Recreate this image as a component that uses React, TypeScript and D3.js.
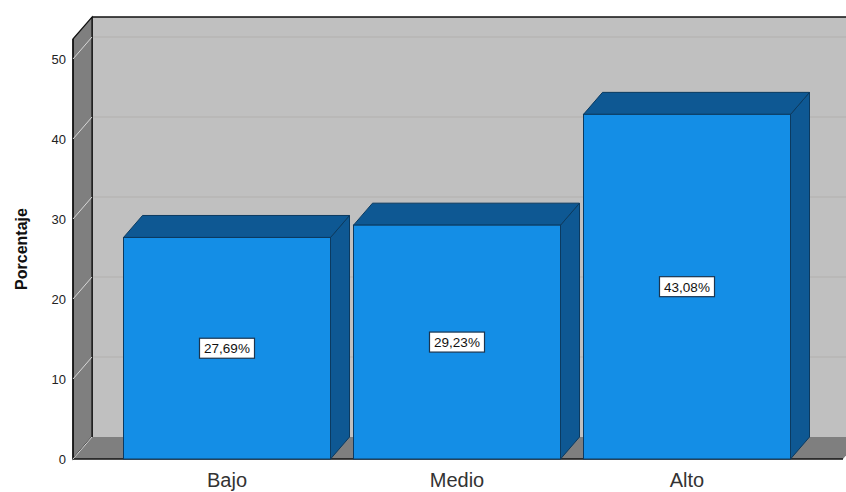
import React from "react";
import * as d3 from "d3";

const categories = ["Bajo", "Medio", "Alto"];
const values = [27.69, 29.23, 43.08];
const valueLabels = ["27,69%", "29,23%", "43,08%"];
const yTicks = [0, 10, 20, 30, 40, 50];

const W = 846;
const H = 492;
const DX = 19;
const DY = 22;

export default function App() {
  const y = d3.scaleLinear().domain([0, 52.5]).range([459, 39]);
  const x = d3.scaleBand<string>().domain(categories).range([112, 802]).paddingInner(0.1).paddingOuter(0.05);
  const frontLeft = 73;
  const frontRight = 843;
  const y0 = y(0);
  const yTop = y(52.5);

  const pts = (p: [number, number][]) => p.map((q) => q.join(",")).join(" ");

  return (
    <svg width={W} height={H} style={{ position: "absolute", left: 0, top: 0, background: "#fff" }} fontFamily="'Liberation Sans', Arial, sans-serif">
      {/* back wall */}
      <rect x={frontLeft + DX} y={yTop - DY} width={W} height={y0 - yTop} fill="#c0c0c0" />
      {yTicks.filter((t) => t > 0).map((t) => (
        <line key={"g" + t} x1={frontLeft + DX} x2={W + 20} y1={y(t) - DY} y2={y(t) - DY} stroke="#b2afad" strokeWidth={1.2} />
      ))}
      <line x1={frontLeft + DX} x2={W + 20} y1={yTop - DY} y2={yTop - DY} stroke="#111" strokeWidth={1.5} />
      <line x1={frontLeft + DX} x2={frontLeft + DX} y1={yTop - DY} y2={y0 - DY} stroke="#111" strokeWidth={1.5} />
      {/* side wall */}
      <polygon
        points={pts([[frontLeft, yTop], [frontLeft + DX, yTop - DY], [frontLeft + DX, y0 - DY], [frontLeft, y0]])}
        fill="#7f7f7f"
        stroke="#111"
        strokeWidth={1.2}
      />
      {/* floor */}
      <polygon
        points={pts([[frontLeft, y0], [frontLeft + DX, y0 - DY], [frontRight + DX, y0 - DY], [frontRight, y0]])}
        fill="#7f7f7f"
      />
      <line x1={frontLeft} x2={frontRight} y1={y0} y2={y0} stroke="#111" strokeWidth={1.5} />
      <line x1={frontLeft} x2={frontLeft} y1={yTop} y2={y0} stroke="#111" strokeWidth={1.5} />
      {/* ticks */}
      {yTicks.map((t) => (
        <g key={"t" + t}>
          <line x1={frontLeft} y1={y(t)} x2={frontLeft + DX} y2={y(t) - DY} stroke="#d8d8d8" strokeWidth={1} />
          <text x={66} y={y(t) + 5} textAnchor="end" fontSize={13} fill="#222">{t}</text>
        </g>
      ))}
      {/* bars */}
      {categories.map((c, i) => {
        const x0 = x(c)!;
        const x1 = x0 + x.bandwidth();
        const yt = y(values[i]);
        return (
          <g key={c}>
            <polygon points={pts([[x1, yt], [x1 + DX, yt - DY], [x1 + DX, y0 - DY], [x1, y0]])} fill="#0e5893" stroke="#0b3a60" strokeWidth={1} />
            <polygon points={pts([[x0, yt], [x0 + DX, yt - DY], [x1 + DX, yt - DY], [x1, yt]])} fill="#0e5893" stroke="#0b3a60" strokeWidth={1} />
            <rect x={x0} y={yt} width={x1 - x0} height={y0 - yt} fill="#148ee6" stroke="#0b3a60" strokeWidth={1} />
          </g>
        );
      })}
      {/* value labels */}
      {categories.map((c, i) => {
        const cx = x(c)! + x.bandwidth() / 2;
        const cy = y(values[i] / 2);
        return (
          <g key={"l" + c}>
            <rect x={cx - 27.5} y={cy - 10} width={55} height={20} fill="#fff" stroke="#1b3550" strokeWidth={1.2} />
            <text x={cx} y={cy + 5} textAnchor="middle" fontSize={13.5} fill="#111">{valueLabels[i]}</text>
          </g>
        );
      })}
      {/* category labels */}
      {categories.map((c) => (
        <text key={"c" + c} x={x(c)! + x.bandwidth() / 2} y={487} textAnchor="middle" fontSize={20} fill="#333">{c}</text>
      ))}
      <text transform={`translate(27,${249}) rotate(-90)`} textAnchor="middle" fontSize={16} fontWeight="bold" fill="#111">Porcentaje</text>
    </svg>
  );
}
